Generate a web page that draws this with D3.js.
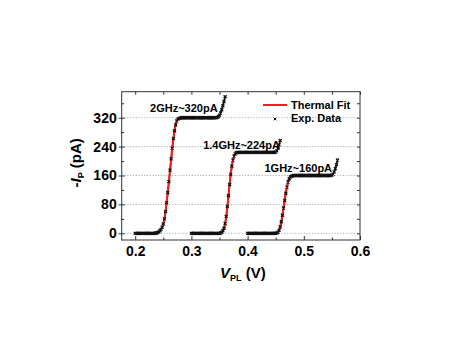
<!DOCTYPE html>
<html>
<head>
<meta charset="utf-8">
<script src="https://cdn.jsdelivr.net/npm/d3@7"></script>
<style>
  body { margin: 0; background: #fff; }
  svg { display: block; font-family: Arial, 'Liberation Sans', sans-serif; font-weight: bold; }
</style>
</head>
<body>
<svg id="chart" width="470" height="364"></svg>
<script>
// sweeps are sampled every 2 mV
const vStep = 0.002;

// 2 GHz, plateau ~320 pA
const vStart2GHz = 0.200;
const current2GHz = [
  0, 0, 0, 0, 0, 0, 0, 0, 0, 0, 0, 0, 0, 0, 0, 0, 0, 0,
  1, 1, 2, 4, 7, 11, 17, 26, 40, 60, 85, 113, 143, 175, 206, 236, 262, 284, 300, 311, 316, 318, 319,
  320, 320, 320, 320, 320, 320, 320, 320, 320, 320, 320, 320, 320, 320, 320, 320,
  320, 320, 320, 320, 320, 320, 320, 320, 320, 320, 320, 320, 320, 320, 320, 320,
  321, 323, 327, 333, 342, 353, 365, 378
];

// 1.4 GHz, plateau ~224 pA
const vStart14GHz = 0.300;
const current14GHz = [
  0, 0, 0, 0, 0, 0, 0, 0, 0, 0, 0, 0, 0, 0, 0, 0, 0, 0, 0, 0, 0, 0, 0, 0, 0, 0,
  1, 3, 7, 14, 27, 47, 74, 104, 135, 163, 186, 203, 214, 220, 223,
  224, 224, 224, 224, 224, 224, 224, 224, 224, 224, 224, 224, 224, 224, 224, 224, 224,
  224, 224, 224, 224, 224, 224, 224, 224, 224, 224, 224, 224, 224, 224, 224, 224, 224,
  225, 228, 235, 245, 257
];

// 1 GHz, plateau ~160 pA
const vStart1GHz = 0.400;
const current1GHz = [
  0, 0, 0, 0, 0, 0, 0, 0, 0, 0, 0, 0, 0, 0, 0, 0, 0, 0, 0, 0, 0, 0, 0, 0, 0, 0,
  1, 3, 8, 18, 32, 50, 70, 91, 111, 128, 142, 151, 156, 158, 159,
  160, 160, 160, 160, 160, 160, 160, 160, 160, 160, 160, 160, 160, 160, 160, 160, 160,
  160, 160, 160, 160, 160, 160, 160, 160, 160, 160, 160, 160, 160, 160, 160, 160, 160,
  161, 164, 170, 179, 190, 203
];

// voltage window covered by the thermal fit of each sweep
const fitWindows = [[0.238, 0.280], [0.350, 0.382], [0.450, 0.480]];

const curveLabels = ['2GHz~320pA', '1.4GHz~224pA', '1GHz~160pA'];

const xTicks = [0.2, 0.3, 0.4, 0.5, 0.6];
const xMinorTicks = [0.25, 0.35, 0.45, 0.55];
const yTicks = [0, 80, 160, 240, 320];
const yMinorTicks = [40, 120, 200, 280, 360];

const sweeps = [
  { start: vStart2GHz, values: current2GHz },
  { start: vStart14GHz, values: current14GHz },
  { start: vStart1GHz, values: current1GHz },
].map(s => s.values.map((v, i) => ({ v: +(s.start + i * vStep).toFixed(3), i: v })));

const svg = d3.select('#chart');
const margin = { top: 91.7, right: 110, bottom: 124, left: 121.7 };
const W = 470, H = 364;

const x = d3.scaleLinear().domain([0.176, 0.6]).range([margin.left, W - margin.right]);
const y = d3.scaleLinear().domain([-18.5, 392]).range([H - margin.bottom, margin.top]);

const x0 = x.range()[0], x1 = x.range()[1];
const y0 = y.range()[0], y1 = y.range()[1];

// dotted grid
svg.append('g')
  .selectAll('line')
  .data(yTicks)
  .join('line')
  .attr('x1', x0).attr('x2', x1)
  .attr('y1', d => y(d)).attr('y2', d => y(d))
  .attr('stroke', '#9a9a9a')
  .attr('stroke-width', 0.8)
  .attr('stroke-dasharray', '1.2,1.6');

const line = d3.line().x(d => x(d.v)).y(d => y(d.i)).curve(d3.curveMonotoneX);

// thin trace joining the measured points, so dense runs read as one band
sweeps.forEach(pts => {
  svg.append('path')
    .datum(pts)
    .attr('d', line)
    .attr('fill', 'none')
    .attr('stroke', '#111')
    .attr('stroke-width', 1.6);
});

// thermal fit lines (under the markers)
sweeps.forEach((pts, k) => {
  const [a, b] = fitWindows[k];
  svg.append('path')
    .datum(pts.filter(d => d.v >= a - 1e-9 && d.v <= b + 1e-9))
    .attr('d', line)
    .attr('fill', 'none')
    .attr('stroke', '#ff1a1a')
    .attr('stroke-width', 2);
});

// experimental data, small "x" markers
const cross = 'M-1.5,-1.5L1.5,1.5M-1.5,1.5L1.5,-1.5';
sweeps.forEach(pts => {
  svg.append('g')
    .selectAll('path')
    .data(pts)
    .join('path')
    .attr('transform', d => `translate(${x(d.v)},${y(d.i)})`)
    .attr('d', cross)
    .attr('stroke', '#111')
    .attr('stroke-width', 1.2)
    .attr('fill', 'none');
});

// axes
const tickStyle = g => {
  g.select('.domain').remove();
  g.selectAll('line').attr('stroke', '#333');
  g.selectAll('text').attr('fill', '#000').style('font-size', '14px').style('font-weight', 'bold')
    .style('font-family', "Arial, 'Liberation Sans', sans-serif");
};

svg.append('g')
  .attr('transform', `translate(0,${y0})`)
  .call(d3.axisBottom(x).tickValues(xTicks).tickSizeInner(-4).tickSizeOuter(0).tickPadding(6).tickFormat(d3.format('.1f')))
  .call(tickStyle);
svg.append('g')
  .attr('transform', `translate(0,${y0})`)
  .call(d3.axisBottom(x).tickValues(xMinorTicks).tickSize(-2.5).tickFormat(''))
  .call(tickStyle);
svg.append('g')
  .attr('transform', `translate(0,${y1})`)
  .call(d3.axisTop(x).tickValues(xTicks.concat(xMinorTicks)).tickSize(-3).tickFormat(''))
  .call(tickStyle);

svg.append('g')
  .attr('transform', `translate(${x0},0)`)
  .call(d3.axisLeft(y).tickValues(yTicks).tickSizeInner(3).tickSizeOuter(0).tickPadding(2))
  .call(tickStyle);
svg.append('g')
  .attr('transform', `translate(${x0},0)`)
  .call(d3.axisLeft(y).tickValues(yTicks).tickSize(-3).tickFormat(''))
  .call(tickStyle);
svg.append('g')
  .attr('transform', `translate(${x0},0)`)
  .call(d3.axisLeft(y).tickValues(yMinorTicks).tickSize(-2.5).tickFormat(''))
  .call(tickStyle);
svg.append('g')
  .attr('transform', `translate(${x1},0)`)
  .call(d3.axisRight(y).tickValues(yTicks.concat(yMinorTicks)).tickSize(-3).tickFormat(''))
  .call(tickStyle);

// frame
svg.append('rect')
  .attr('x', x0).attr('y', y1)
  .attr('width', x1 - x0).attr('height', y0 - y1)
  .attr('fill', 'none')
  .attr('stroke', '#333')
  .attr('stroke-width', 1);

// curve annotations
const labelAnchors = [[0.2264, 336], [0.3209, 233], [0.4301, 170]];
svg.append('g')
  .selectAll('text')
  .data(curveLabels)
  .join('text')
  .attr('x', (d, i) => x(labelAnchors[i][0]))
  .attr('y', (d, i) => y(labelAnchors[i][1]))
  .style('font-size', '11px')
  .text(d => d);

// legend
const legend = svg.append('g');
legend.append('line')
  .attr('x1', 263).attr('x2', 287).attr('y1', 105).attr('y2', 105)
  .attr('stroke', '#ff1a1a').attr('stroke-width', 2);
legend.append('text').attr('x', 291).attr('y', 108.7).style('font-size', '11px').text('Thermal Fit');
legend.append('path')
  .attr('transform', 'translate(275,119)')
  .attr('d', 'M-1.3,-1.3L1.3,1.3M-1.3,1.3L1.3,-1.3')
  .attr('stroke', '#000').attr('stroke-width', 1);
legend.append('text').attr('x', 291).attr('y', 121.5).style('font-size', '11px').text('Exp. Data');

// axis titles
const xTitle = svg.append('text')
  .attr('x', (x0 + x1) / 2 + 2)
  .attr('y', 277.5)
  .attr('text-anchor', 'middle')
  .style('font-size', '15px');
xTitle.append('tspan').style('font-style', 'italic').text('V');
xTitle.append('tspan').attr('dy', 3).style('font-size', '9px').text('PL');
xTitle.append('tspan').attr('dy', -3).text(' (V)');

const yTitle = svg.append('text')
  .attr('transform', `translate(81,${(y0 + y1) / 2 - 3}) rotate(-90)`)
  .attr('text-anchor', 'middle')
  .style('font-size', '15px');
yTitle.append('tspan').text('-');
yTitle.append('tspan').style('font-style', 'italic').text('I');
yTitle.append('tspan').attr('dy', 3).style('font-size', '9px').text('P');
yTitle.append('tspan').attr('dy', -3).text(' (pA)');
</script>
</body>
</html>
